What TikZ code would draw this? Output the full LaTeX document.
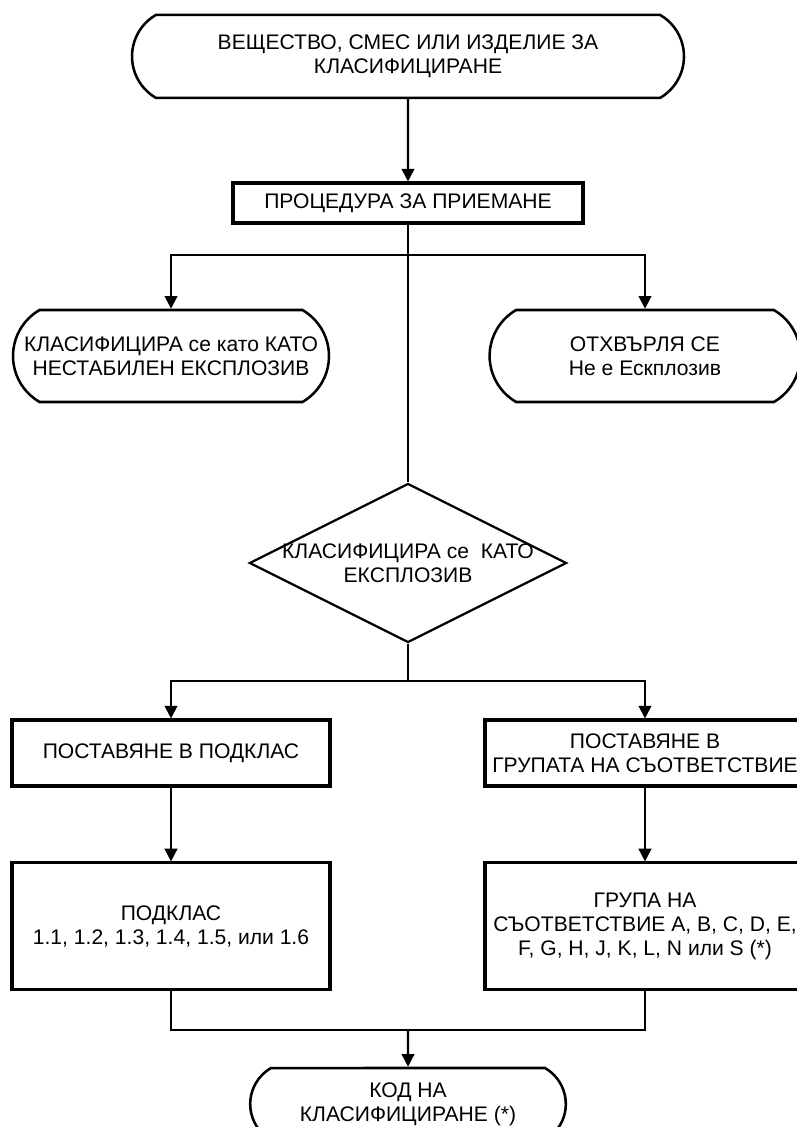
\documentclass[tikz,border=0pt]{standalone}
\usepackage{fontspec}
\setmainfont{Liberation Sans}
\usetikzlibrary{shapes.geometric,shapes.misc,arrows.meta}

\begin{document}
\begin{tikzpicture}[
    font=\fontsize{15}{17}\selectfont,
    box/.style={draw, line width=2.2pt, rectangle, align=center, inner sep=-1cm},
    term/.style={draw, line width=1.8pt, rounded rectangle, rounded rectangle arc length=120, align=center, inner sep=-1cm},
    decide/.style={draw, line width=1.6pt, diamond, shape aspect=2, align=center, inner sep=-1cm},
    arr/.style={line width=1.5pt, -{Triangle[length=9pt,width=9pt]}},
    link/.style={line width=1.5pt}
    ]
    \useasboundingbox (0,0) rectangle (19.925,-28.175);
    \node[term, minimum width=11.8cm, minimum height=2.075cm] (start) at (10.2,-1.41) {ВЕЩЕСТВО, СМЕС ИЛИ ИЗДЕЛИЕ ЗА\\КЛАСИФИЦИРАНЕ};
    \node[box, minimum width=8.75cm, minimum height=1cm] (proc) at (10.2,-5.075) {ПРОЦЕДУРА ЗА ПРИЕМАНЕ};
    \node[term, minimum width=5.9cm, minimum height=2.3cm] (unstable) at (4.275,-8.9) {КЛАСИФИЦИРА се като КАТО\\НЕСТАБИЛЕН ЕКСПЛОЗИВ};
    \node[term, minimum width=5.77cm, minimum height=2.3cm] (reject) at (16.125,-8.9) {ОТХВЪРЛЯ СЕ\\Не е Ескплозив};
    \node[decide, minimum width=7.925cm, minimum height=3.975cm] (expl) at (10.2,-14.075) {КЛАСИФИЦИРА се~ КАТО\\ЕКСПЛОЗИВ};
    \node[box, minimum width=7.95cm, minimum height=1.65cm] (div) at (4.275,-18.825) {ПОСТАВЯНЕ В ПОДКЛАС};
    \node[box, minimum width=8cm, minimum height=1.65cm] (grp) at (16.125,-18.825) {ПОСТАВЯНЕ В\\ГРУПАТА НА СЪОТВЕТСТВИЕ};
    \node[box, minimum width=7.95cm, minimum height=3.175cm] (divset) at (4.275,-23.16) {ПОДКЛАС\\1.1, 1.2, 1.3, 1.4, 1.5, или 1.6};
    \node[box, minimum width=8cm, minimum height=3.175cm] (grpset) at (16.125,-23.16) {ГРУПА НА\\СЪОТВЕТСТВИЕ A, B, C, D, E,\\F, G, H, J, K, L, N или S (*)};
    \node[term, minimum width=5.89cm, minimum height=1.8cm] (code) at (10.2,-27.6) {КОД НА\\КЛАСИФИЦИРАНЕ (*)};
    \coordinate (fork1) at (10.2,-6.375);
    \coordinate (fork2) at (10.2,-17.025);
    \coordinate (join) at (10.2,-25.75);
    \draw[arr] (start) -- (proc);
    \draw[link] (proc) -- (expl);
    \draw[arr] (fork1) -| (unstable);
    \draw[arr] (fork1) -| (reject);
    \draw[link] (expl) -- (fork2);
    \draw[arr] (fork2) -| (div);
    \draw[arr] (fork2) -| (grp);
    \draw[arr] (div) -- (divset);
    \draw[arr] (grp) -- (grpset);
    \draw[link] (divset) |- (join);
    \draw[link] (grpset) |- (join);
    \draw[arr] (join) -- (code);
\end{tikzpicture}
\end{document}
